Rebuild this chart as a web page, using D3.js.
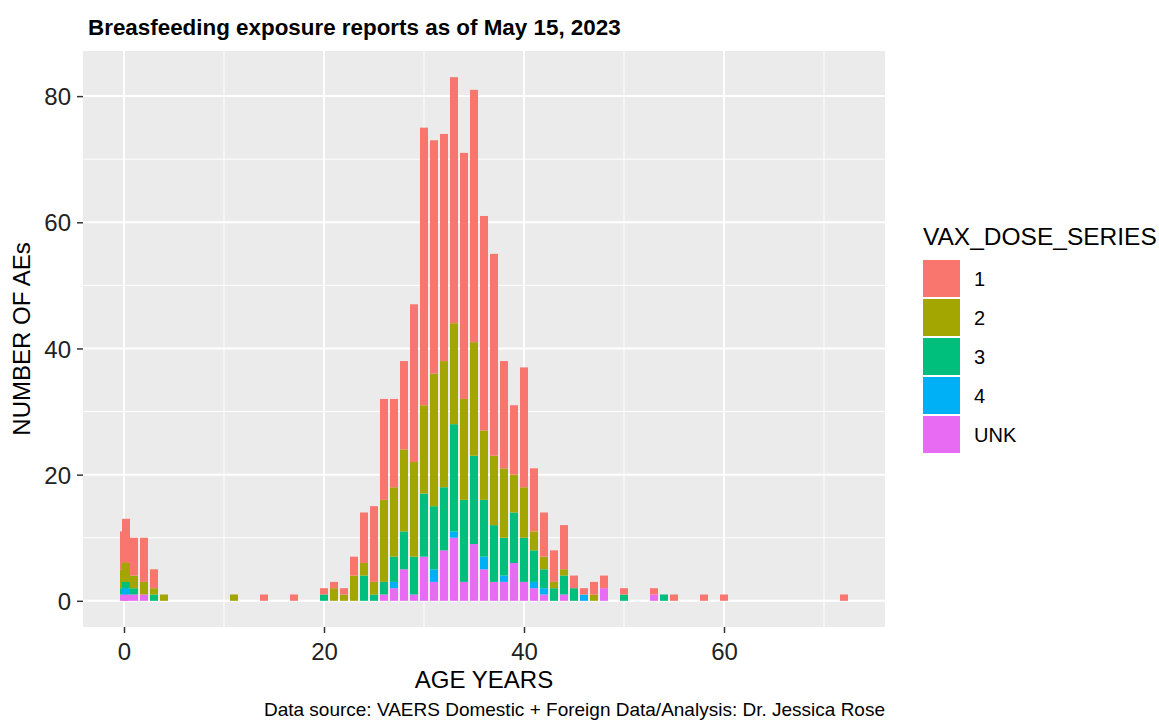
<!DOCTYPE html>
<html>
<head>
<meta charset="utf-8">
<script src="https://cdn.jsdelivr.net/npm/d3@7"></script>
<style>
  body { margin: 0; background: #fff; }
  svg { font-family: "Liberation Sans", Arial, Helvetica, sans-serif; }
</style>
</head>
<body>
<div id="chart"></div>
<script>
// ages (years); 0.2 is a second infant bar that overlaps the age-0 bar
var ages  = [0, 0.2, 1, 2, 3, 4, 11, 14, 17,
             20, 21, 22, 23, 24, 25, 26, 27, 28, 29, 30, 31, 32, 33, 34,
             35, 36, 37, 38, 39, 40, 41, 42, 43, 44, 45, 46, 47, 48,
             50, 53, 54, 55, 58, 60, 72];
var dose1 = [6, 7, 6, 7, 3, 0, 0, 1, 1,
             1, 1, 1, 3, 8, 12, 16, 14, 14, 25, 44, 37, 36, 39, 39,
             40, 34, 32, 17, 11, 19, 10, 7, 5, 7, 2, 1, 2, 2,
             1, 1, 0, 1, 1, 1, 1];
var dose2 = [3, 3, 2, 2, 1, 1, 1, 0, 0,
             0, 2, 1, 4, 2, 2, 13, 11, 13, 15, 14, 21, 20, 16, 16,
             18, 11, 11, 11, 6, 8, 3, 2, 1, 1, 0, 0, 1, 0,
             0, 0, 0, 0, 0, 0, 0];
var dose3 = [1, 1, 1, 0, 1, 0, 0, 0, 0,
             1, 0, 0, 0, 4, 1, 2, 4, 6, 6, 10, 10, 10, 17, 13,
             14, 9, 9, 6, 8, 7, 5, 3, 2, 3, 2, 0, 0, 0,
             1, 0, 1, 0, 0, 0, 0];
var dose4 = [0, 1, 0, 0, 0, 0, 0, 0, 0,
             0, 0, 0, 0, 0, 0, 0, 1, 0, 0, 0, 2, 0, 1, 0,
             0, 2, 0, 1, 0, 0, 1, 1, 0, 0, 0, 1, 0, 0,
             0, 0, 0, 0, 0, 0, 0];
var doseUnk = [1, 1, 1, 1, 0, 0, 0, 0, 0,
             0, 0, 0, 0, 0, 0, 1, 2, 5, 1, 7, 3, 8, 10, 3,
             9, 5, 3, 3, 6, 3, 2, 1, 0, 1, 0, 0, 0, 2,
             0, 1, 0, 0, 0, 0, 0];

var seriesKeys = ["1", "2", "3", "4", "UNK"];
var seriesColors = ["#F8766D", "#A3A500", "#00BF7D", "#00B0F6", "#E76BF3"];
var xTicks = [0, 20, 40, 60];
var xMinor = [10, 30, 50, 70];
var yTicks = [0, 20, 40, 60, 80];
var yMinor = [10, 30, 50, 70];

var svgWidth = 1159, svgHeight = 722;
var panel = { left: 83, right: 885, top: 51, bottom: 627 };

var svg = d3.select("#chart").append("svg")
    .attr("width", svgWidth)
    .attr("height", svgHeight);

svg.append("rect").attr("width", svgWidth).attr("height", svgHeight).attr("fill", "#fff");

var x = d3.scaleLinear().domain([-4.1, 76.1]).range([panel.left, panel.right]);
var y = d3.scaleLinear().domain([-4.15, 87.15]).range([panel.bottom, panel.top]);
var color = d3.scaleOrdinal().domain(seriesKeys).range(seriesColors);

// panel background + grid
svg.append("rect")
  .attr("x", panel.left).attr("y", panel.top)
  .attr("width", panel.right - panel.left).attr("height", panel.bottom - panel.top)
  .attr("fill", "#EBEBEB");

var grid = svg.append("g");
grid.selectAll(".ymin").data(yMinor).enter().append("line")
  .attr("x1", panel.left).attr("x2", panel.right)
  .attr("y1", d => y(d)).attr("y2", d => y(d))
  .attr("stroke", "#fff").attr("stroke-width", 1);
grid.selectAll(".xmin").data(xMinor).enter().append("line")
  .attr("y1", panel.top).attr("y2", panel.bottom)
  .attr("x1", d => x(d)).attr("x2", d => x(d))
  .attr("stroke", "#fff").attr("stroke-width", 1);
grid.selectAll(".ymaj").data(yTicks).enter().append("line")
  .attr("x1", panel.left).attr("x2", panel.right)
  .attr("y1", d => y(d)).attr("y2", d => y(d))
  .attr("stroke", "#fff").attr("stroke-width", 2);
grid.selectAll(".xmaj").data(xTicks).enter().append("line")
  .attr("y1", panel.top).attr("y2", panel.bottom)
  .attr("x1", d => x(d)).attr("x2", d => x(d))
  .attr("stroke", "#fff").attr("stroke-width", 2);

// stacked bars, "1" on top, UNK at the bottom (ggplot order)
var rows = ages.map(function(a, i) {
  return { age: a, "1": dose1[i], "2": dose2[i], "3": dose3[i], "4": dose4[i], "UNK": doseUnk[i] };
});
var stacked = d3.stack().keys(seriesKeys.slice().reverse())(rows);
var barW = 0.8;

var barGroups = svg.append("g").selectAll("g")
  .data(rows)
  .enter().append("g");

barGroups.each(function(row, i) {
  var segs = stacked.map(function(layer) {
    return { key: layer.key, y0: layer[i][0], y1: layer[i][1] };
  }).filter(d => d.y1 > d.y0);
  d3.select(this).selectAll("rect")
    .data(segs)
    .enter().append("rect")
    .attr("x", x(row.age - barW / 2))
    .attr("width", x(barW) - x(0))
    .attr("y", d => y(d.y1))
    .attr("height", d => y(d.y0) - y(d.y1))
    .attr("fill", d => color(d.key));
});

// axes
var xAxis = svg.append("g")
  .attr("transform", `translate(0, ${panel.bottom})`)
  .call(d3.axisBottom(x).tickValues(xTicks).tickSize(6).tickPadding(10));
var yAxis = svg.append("g")
  .attr("transform", `translate(${panel.left}, 0)`)
  .call(d3.axisLeft(y).tickValues(yTicks).tickSize(6).tickPadding(6));

[xAxis, yAxis].forEach(function(ax) {
  ax.select(".domain").remove();
  ax.selectAll(".tick line").attr("stroke", "#333").attr("stroke-width", 1.5);
  ax.selectAll(".tick text")
    .attr("font-size", "24px")
    .attr("fill", "#222")
    .attr("font-family", "Liberation Sans, Arial, sans-serif");
});
yAxis.selectAll(".tick text").attr("dy", "0.36em");

// titles
svg.append("text")
  .attr("x", 88).attr("y", 35)
  .attr("font-size", "22.4px").attr("font-weight", "bold")
  .text("Breasfeeding exposure reports as of May 15, 2023");

svg.append("text")
  .attr("x", (panel.left + panel.right) / 2).attr("y", 688)
  .attr("text-anchor", "middle")
  .attr("font-size", "24px")
  .text("AGE YEARS");

svg.append("text")
  .attr("transform", `translate(30, ${(panel.top + panel.bottom) / 2}) rotate(-90)`)
  .attr("text-anchor", "middle")
  .attr("font-size", "24px")
  .text("NUMBER OF AEs");

svg.append("text")
  .attr("x", panel.right).attr("y", 716)
  .attr("text-anchor", "end")
  .attr("font-size", "19px")
  .text("Data source: VAERS Domestic + Foreign Data/Analysis: Dr. Jessica Rose");

// legend
var legend = svg.append("g").attr("transform", "translate(923, 0)");
legend.append("text")
  .attr("x", 0).attr("y", 245)
  .attr("font-size", "24.5px")
  .text("VAX_DOSE_SERIES");

var items = legend.selectAll(".item")
  .data(seriesKeys)
  .enter().append("g")
  .attr("transform", (d, i) => `translate(0, ${260 + i * 39})`);
items.append("rect")
  .attr("width", 37).attr("height", 37)
  .attr("fill", d => color(d));
items.append("text")
  .attr("x", 51).attr("y", 18.5)
  .attr("dy", "0.36em")
  .attr("font-size", "20px")
  .text(d => d);
</script>
</body>
</html>
